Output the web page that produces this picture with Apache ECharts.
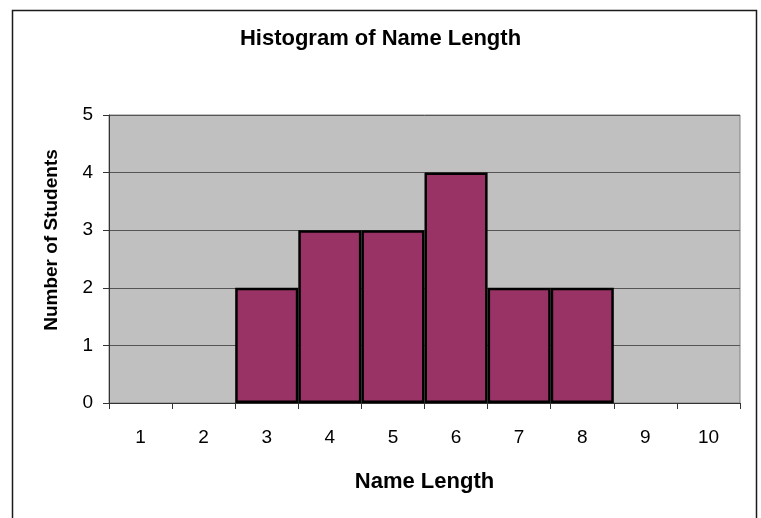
<!DOCTYPE html>
<html>
<head>
<meta charset="utf-8">
<title>Histogram of Name Length</title>
<script src="https://cdn.jsdelivr.net/npm/echarts@6/dist/echarts.min.js"></script>
<style>
  html, body { margin: 0; padding: 0; background: #ffffff; }
  #chart { width: 761px; height: 518px; }
</style>
</head>
<body>
<div id="chart"></div>
<script>
// Name lengths (letters) and how many students have each one
const nameLengths = ['1', '2', '3', '4', '5', '6', '7', '8', '9', '10'];
const studentCounts = [0, 0, 2, 3, 3, 4, 2, 2, 0, 0];
const countTicks = [0, 1, 2, 3, 4, 5];

const FONT = '"Liberation Sans", Arial, sans-serif';

const chart = echarts.init(document.getElementById('chart'), null, { renderer: 'canvas' });

chart.setOption({
  animation: false,
  backgroundColor: '#ffffff',
  title: {
    text: 'Histogram of Name Length',
    left: 'center',
    top: 28,
    padding: 0,
    textStyle: { fontFamily: FONT, fontSize: 22, fontWeight: 'bold', color: '#000000' }
  },
  graphic: [{
    type: 'rect',
    shape: { x: 12.5, y: 10.5, width: 744, height: 530 },
    style: { fill: null, stroke: '#1a1a1a', lineWidth: 1.5 },
    silent: true,
    z: -1
  }],
  grid: {
    left: 109, top: 115, width: 631, height: 288,
    show: true,
    backgroundColor: '#c0c0c0',
    borderColor: '#808080',
    borderWidth: 1
  },
  xAxis: {
    type: 'category',
    data: nameLengths,
    boundaryGap: true,
    name: 'Name Length',
    nameLocation: 'middle',
    nameGap: 68,
    nameTextStyle: { fontFamily: FONT, fontSize: 22, fontWeight: 'bold', color: '#000000' },
    axisLine: { lineStyle: { color: '#333333', width: 1 } },
    axisTick: { show: true, alignWithLabel: false, length: 6, inside: false, lineStyle: { color: '#333333' } },
    axisLabel: { fontFamily: FONT, fontSize: 19, color: '#000000', margin: 25 },
    splitLine: { show: false }
  },
  yAxis: {
    type: 'value',
    min: countTicks[0],
    max: countTicks[countTicks.length - 1],
    interval: 1,
    name: 'Number of Students',
    nameLocation: 'middle',
    nameGap: 48,
    nameRotate: 90,
    nameTextStyle: { fontFamily: FONT, fontSize: 19, fontWeight: 'bold', color: '#000000', padding: [0, 0, 0, 38] },
    axisLine: { show: true, lineStyle: { color: '#333333', width: 1 } },
    axisTick: { show: true, length: 6, lineStyle: { color: '#333333' } },
    axisLabel: { fontFamily: FONT, fontSize: 19, color: '#000000', margin: 16 },
    splitLine: { show: true, lineStyle: { color: '#555555', width: 1 } }
  },
  series: [{
    type: 'bar',
    data: studentCounts.map(v => (v === 0 ? '-' : v)),
    barCategoryGap: '0%',
    itemStyle: { color: '#993366', borderColor: '#000000', borderWidth: 2.5 },
    emphasis: { disabled: true }
  }]
});
</script>
</body>
</html>
